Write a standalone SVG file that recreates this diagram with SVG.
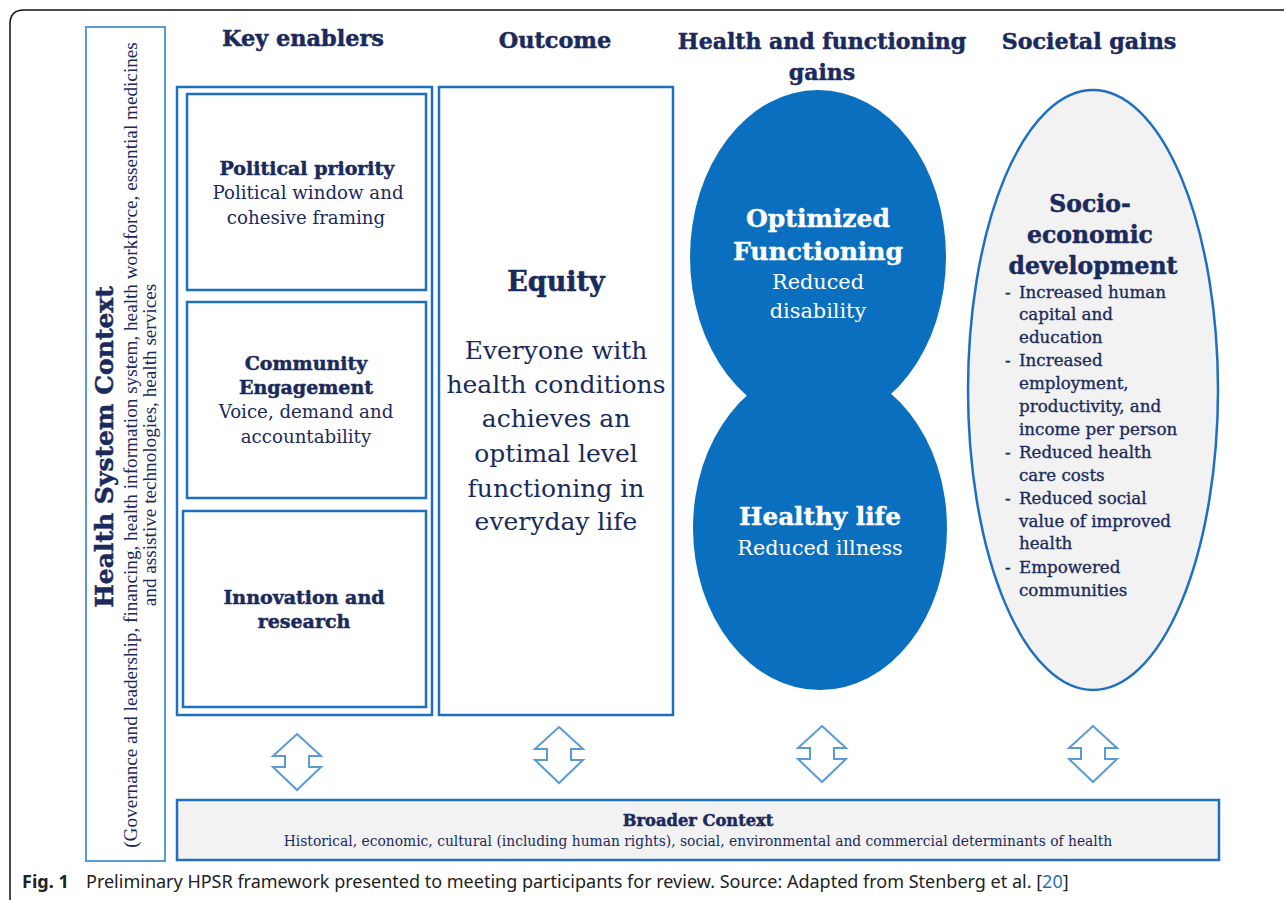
<svg xmlns="http://www.w3.org/2000/svg" width="1284" height="900" viewBox="0 0 1284 900">
<style>
.t{font-family:"DejaVu Serif","Liberation Serif",serif;fill:#1b2a5c;text-anchor:middle}
.b{font-weight:bold;stroke:#1b2a5c;stroke-width:0.5}
.w{fill:#ffffff}
.bw{font-weight:bold;fill:#ffffff;stroke:#ffffff;stroke-width:0.4}
.sub{font-family:"Liberation Serif",serif;fill:#1b2a5c;text-anchor:middle;font-size:19.2px}
.li{font-family:"DejaVu Serif","Liberation Serif",serif;fill:#1b2a5c;font-size:16.7px;stroke:#1b2a5c;stroke-width:0.35}
.box{fill:#ffffff;stroke:#1f6fc0;stroke-width:2.5}
.grey{fill:#f2f2f2;stroke:#1f6fc0;stroke-width:2.5}
.arr{fill:#ffffff;stroke:#5b9bd5;stroke-width:2;stroke-linejoin:miter}
.cap{font-family:"Noto Sans","Open Sans",sans-serif;font-size:18px;fill:#222222}
</style>
<defs>
<path id="dbl" d="M0,0 L24,22 L12,22 L12,33 L24,33 L0,56 L-24,33 L-12,33 L-12,22 L-24,22 Z"/>
</defs>
<rect width="1284" height="900" fill="#ffffff"/>
<path d="M10,900 L10,24 Q10,10 24,10 L1290,10" fill="none" stroke="#111111" stroke-width="1.5"/>

<g id="health-system-context">
<rect x="86" y="27" width="79" height="834" fill="#ffffff" stroke="#5b9bd5" stroke-width="2"/>
<text class="t b" font-size="25" transform="translate(113,447) rotate(-90)" x="0" y="0">Health System Context</text>
<text class="sub" transform="translate(137,445) rotate(-90)" x="0" y="0">(Governance and leadership, financing, health information system, health workforce, essential medicines</text>
<text class="sub" transform="translate(156,445) rotate(-90)" x="0" y="0">and assistive technologies, health services</text>
</g>

<g id="headers">
<text class="t b" font-size="22.4" x="303" y="46">Key enablers</text>
<text class="t b" font-size="22.4" x="555" y="48">Outcome</text>
<text class="t b" font-size="22" x="822" y="49">Health and functioning</text>
<text class="t b" font-size="22" x="822" y="80">gains</text>
<text class="t b" font-size="22.2" x="1089" y="49">Societal gains</text>
</g>

<g id="key-enablers">
<rect class="box" x="177" y="87" width="255" height="628"/>
</g>
<g id="political-priority">
<rect class="box" x="187" y="94" width="239" height="196"/>
<text class="t b" font-size="19" x="307" y="175">Political priority</text>
<text class="t" font-size="18.2" x="308" y="199">Political window and</text>
<text class="t" font-size="18.2" x="306" y="224">cohesive framing</text>
</g>
<g id="community-engagement">
<rect class="box" x="187" y="302" width="239" height="196"/>
<text class="t b" font-size="19" x="306" y="370">Community</text>
<text class="t b" font-size="19" x="306" y="394">Engagement</text>
<text class="t" font-size="18.2" x="306" y="418">Voice, demand and</text>
<text class="t" font-size="18.2" x="306" y="443">accountability</text>
</g>
<g id="innovation-research">
<rect class="box" x="183" y="511" width="243" height="196"/>
<text class="t b" font-size="19" x="304" y="604">Innovation and</text>
<text class="t b" font-size="19" x="304" y="628">research</text>
</g>

<g id="equity">
<rect class="box" x="439" y="87" width="234" height="628"/>
<text class="t b" font-size="27" x="556" y="291">Equity</text>
<text class="t" font-size="25" x="556" y="359">Everyone with</text>
<text class="t" font-size="25" x="556" y="393">health conditions</text>
<text class="t" font-size="25" x="556" y="427">achieves an</text>
<text class="t" font-size="25" x="556" y="462">optimal level</text>
<text class="t" font-size="25" x="556" y="497">functioning in</text>
<text class="t" font-size="25" x="556" y="530">everyday life</text>
</g>

<g id="optimized-functioning">
<ellipse cx="818" cy="257" rx="128" ry="167" fill="#0b6fc0"/>
<text class="t bw" font-size="25" x="818" y="227">Optimized</text>
<text class="t bw" font-size="25" x="818" y="260">Functioning</text>
<text class="t w" font-size="20.8" x="818" y="289">Reduced</text>
<text class="t w" font-size="20.8" x="818" y="318">disability</text>
</g>
<g id="healthy-life">
<ellipse cx="820" cy="528" rx="127" ry="162" fill="#0b6fc0"/>
<text class="t bw" font-size="24.7" x="820" y="525">Healthy life</text>
<text class="t w" font-size="20.8" x="820" y="555">Reduced illness</text>
</g>

<g id="socio-economic-development">
<ellipse class="grey" cx="1093" cy="390" rx="125" ry="300"/>
<text class="t b" font-size="23.5" x="1090" y="212">Socio-</text>
<text class="t b" font-size="23.5" x="1090" y="243">economic</text>
<text class="t b" font-size="23.5" x="1093" y="274">development</text>
<text class="li" x="1005" y="298">-</text>
<text class="li" x="1019" y="298">Increased human</text>
<text class="li" x="1019" y="320">capital and</text>
<text class="li" x="1019" y="343">education</text>
<text class="li" x="1005" y="366">-</text>
<text class="li" x="1019" y="366">Increased</text>
<text class="li" x="1019" y="389">employment,</text>
<text class="li" x="1019" y="412">productivity, and</text>
<text class="li" x="1019" y="435">income per person</text>
<text class="li" x="1005" y="458">-</text>
<text class="li" x="1019" y="458">Reduced health</text>
<text class="li" x="1019" y="481">care costs</text>
<text class="li" x="1005" y="504">-</text>
<text class="li" x="1019" y="504">Reduced social</text>
<text class="li" x="1019" y="527">value of improved</text>
<text class="li" x="1019" y="549">health</text>
<text class="li" x="1005" y="573">-</text>
<text class="li" x="1019" y="573">Empowered</text>
<text class="li" x="1019" y="596">communities</text>
</g>

<g id="connectors">
<use href="#dbl" class="arr" x="297" y="734"/>
<use href="#dbl" class="arr" x="559" y="727"/>
<use href="#dbl" class="arr" x="822" y="726"/>
<use href="#dbl" class="arr" x="1093" y="726"/>
</g>

<g id="broader-context">
<rect class="grey" x="177" y="800" width="1042" height="60"/>
<text class="t b" font-size="16.3" x="698" y="826">Broader Context</text>
<text class="t" font-size="13.85" x="698" y="846">Historical, economic, cultural (including human rights), social, environmental and commercial determinants of health</text>
</g>

<g id="caption">
<text class="cap" x="22" y="888"><tspan font-weight="bold">Fig. 1</tspan><tspan x="86">Preliminary HPSR framework presented to meeting participants for review. Source: Adapted from Stenberg et al. [</tspan><tspan fill="#2a6ebb">20</tspan><tspan>]</tspan></text>
</g>
</svg>
